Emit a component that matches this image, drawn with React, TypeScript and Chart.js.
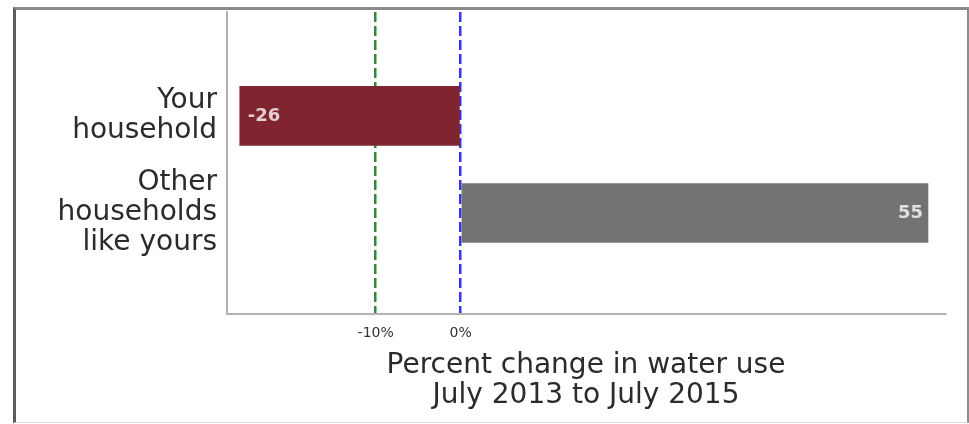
import { useEffect, useRef } from 'react';
import { Chart, registerables } from 'chart.js';

Chart.register(...registerables);

// Household comparison: percent change in water use
const categories: string[][] = [['Your', 'household'], ['Other', 'households', 'like yours']];
const changes: number[] = [-26, 55];
const barColors: string[] = ['#80242f', '#737373'];
const referenceValues: number[] = [-10, 0];
const referenceColors: string[] = ['#2f8a3c', '#3535ee'];
const tickLabels: string[] = ['-10%', '0%'];
const axisTitle: string[] = ['Percent change in water use', 'July 2013 to July 2015'];

const FONT = '"DejaVu Sans", "Liberation Sans", Arial, sans-serif';

// Writes each bar's value just inside its outer end
const valueLabels = {
  id: 'valueLabels',
  afterDatasetsDraw(chart: any) {
    const { ctx } = chart;
    const meta = chart.getDatasetMeta(0);
    ctx.save();
    ctx.font = `bold 18px ${FONT}`;
    ctx.fillStyle = 'rgba(255,255,255,0.78)';
    ctx.textBaseline = 'middle';
    meta.data.forEach((bar: any, i: number) => {
      const v = changes[i];
      const { x, y } = bar.getProps(['x', 'y'], true);
      ctx.textAlign = v < 0 ? 'left' : 'right';
      ctx.fillText(String(v), v < 0 ? x + 8 : x - 5, y);
    });
    ctx.restore();
  },
};

export default function App() {
  const canvasRef = useRef<HTMLCanvasElement | null>(null);

  useEffect(() => {
    const canvas = canvasRef.current;
    if (!canvas) return;
    const chart = new Chart(canvas, {
      type: 'bar',
      data: {
        datasets: [
          {
            data: changes.map((v, i) => ({ x: v, y: i })),
            backgroundColor: barColors,
            borderWidth: 0,
            barThickness: 59,
          },
        ],
      },
      options: {
        indexAxis: 'y',
        responsive: false,
        animation: false,
        layout: { padding: { top: 12, right: 24, left: 0, bottom: 0 } },
        plugins: {
          legend: { display: false },
          tooltip: { enabled: false },
        },
        scales: {
          x: {
            type: 'linear',
            min: -27.5,
            max: 57,
            afterBuildTicks: (s: any) => {
              s.ticks = referenceValues.map((v) => ({ value: v }));
            },
            afterFit: (s: any) => {
              s.height = 110;
              s.paddingLeft = 0;
              s.paddingRight = 0;
            },
            ticks: {
              autoSkip: false,
              maxRotation: 0,
              padding: 11,
              color: '#333333',
              font: { family: FONT, size: 14 },
              callback: (_v: any, i: number) => tickLabels[i],
            },
            grid: {
              drawTicks: false,
              lineWidth: 2.5,
              color: (c: any) => referenceColors[c.index] ?? 'rgba(0,0,0,0)',
            },
            border: { color: '#b3b3b3', width: 2, dash: [10, 4] },
            title: {
              display: true,
              text: axisTitle,
              color: '#2b2b2b',
              font: { family: FONT, size: 28, lineHeight: 1.07 },
              padding: { top: 0, bottom: 13 },
            },
          },
          y: {
            type: 'linear',
            reverse: true,
            offset: false,
            min: -1.07,
            max: 2.04,
            afterBuildTicks: (s: any) => {
              s.ticks = categories.map((_c, i) => ({ value: i }));
            },
            afterFit: (s: any) => {
              s.width = 227;
              s.paddingTop = 0;
              s.paddingBottom = 0;
            },
            ticks: {
              autoSkip: false,
              padding: 10,
              color: '#2b2b2b',
              font: { family: FONT, size: 28, lineHeight: 1.07 },
              callback: (v: any) => categories[v] ?? '',
            },
            grid: { display: false, drawTicks: false, offset: false },
            border: { color: '#b3b3b3', width: 2 },
          },
        },
      } as any,
      plugins: [valueLabels],
    });
    return () => chart.destroy();
  }, []);

  return (
    <div style={{ position: 'fixed', left: 0, top: 0, width: 969, height: 424, background: '#ffffff' }}>
      <canvas ref={canvasRef} width={969} height={424} style={{ display: 'block' }} />
      <div
        style={{
          position: 'absolute',
          left: 13,
          top: 7,
          width: 956,
          height: 416,
          boxSizing: 'border-box',
          borderTop: '3px solid #8a8a8a',
          borderLeft: '3px solid #5c5c5c',
          borderRight: '2px solid #8c8c8c',
          borderBottom: '1px solid #dcdcdc',
          pointerEvents: 'none',
        }}
      />
    </div>
  );
}
